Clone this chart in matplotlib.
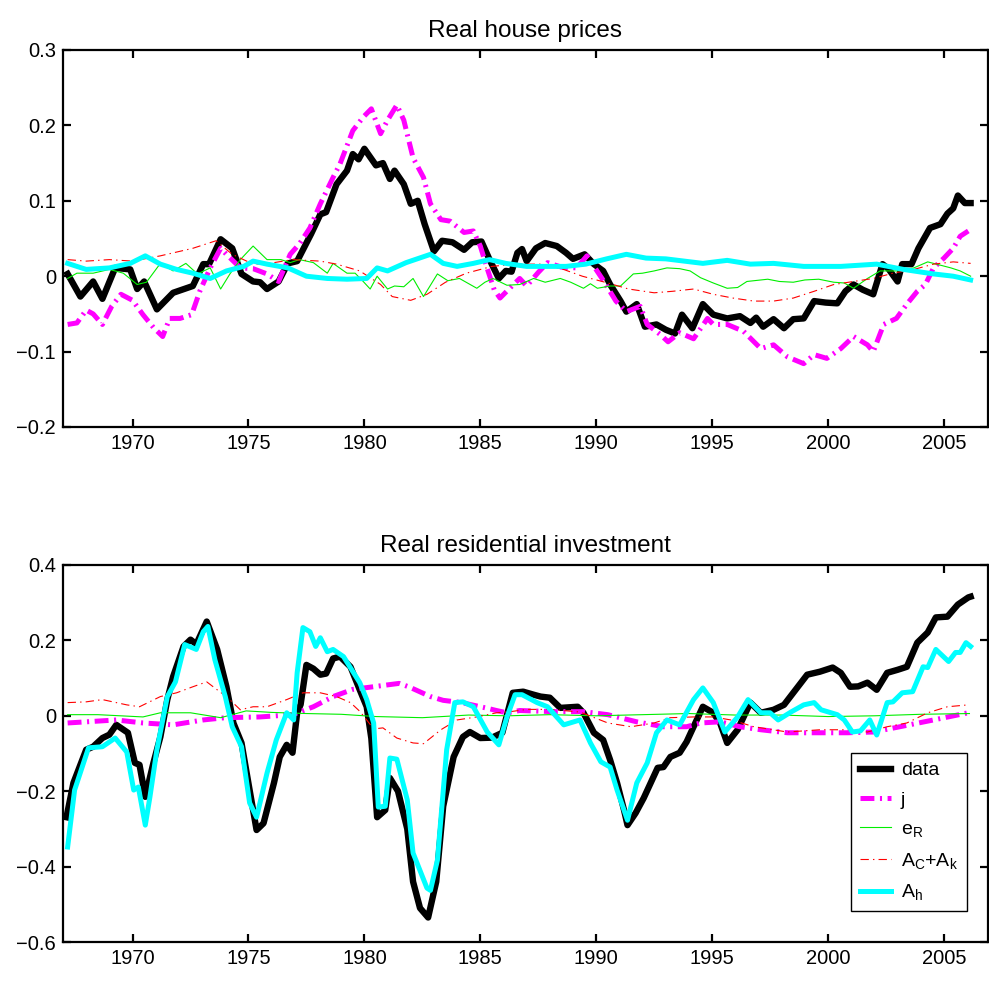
import matplotlib
matplotlib.use("Agg")
import matplotlib.pyplot as plt

plt.rcParams['font.family'] = ['Liberation Sans', 'DejaVu Sans']
plt.rcParams['mathtext.fontset'] = 'custom'
plt.rcParams['mathtext.rm'] = 'Liberation Sans'
plt.rcParams['mathtext.default'] = 'regular'
plt.rcParams['lines.scale_dashes'] = False

# ---------------------------------------------------------------
# Real house prices: (year, deviation) pairs for each contribution
# ---------------------------------------------------------------
hp_data_t = [1967.2, 1967.75, 1968.3, 1968.7, 1969.25, 1969.9, 1970.2, 1970.5, 1971.05, 1971.75,
             1972.6, 1973.05, 1973.3, 1973.8, 1974.3, 1974.7, 1975.2, 1975.5, 1975.8, 1976.3,
             1976.7, 1977.1, 1977.7, 1978.1, 1978.35, 1978.8, 1979.25, 1979.5, 1979.75, 1980.0,
             1980.5, 1980.8, 1981.1, 1981.3, 1981.7, 1982.0, 1982.3, 1982.6, 1983.0, 1983.35,
             1983.8, 1984.3, 1984.65, 1985.05, 1985.4, 1985.8, 1986.1, 1986.35, 1986.6, 1986.8,
             1987.0, 1987.4, 1987.8, 1988.3, 1988.7, 1989.0, 1989.5, 1989.9, 1990.3, 1990.6,
             1991.05, 1991.3, 1991.75, 1992.1, 1992.6, 1993.0, 1993.4, 1993.7, 1994.15, 1994.6,
             1995.05, 1995.65, 1996.2, 1996.65, 1996.9, 1997.2, 1997.65, 1998.1, 1998.5, 1998.95,
             1999.4, 1999.9, 2000.4, 2000.75, 2001.1, 2001.5, 2001.95, 2002.35, 2002.6, 2003.0,
             2003.2, 2003.6, 2003.9, 2004.4, 2004.85, 2005.15, 2005.4, 2005.6, 2005.9, 2006.15]
hp_data_v = [0.003, -0.027, -0.007, -0.030, 0.011, 0.009, -0.017, -0.007, -0.044, -0.022,
             -0.013, 0.016, 0.016, 0.049, 0.037, 0.003, -0.007, -0.008, -0.017, -0.007,
             0.017, 0.020, 0.056, 0.082, 0.085, 0.122, 0.140, 0.162, 0.155, 0.169,
             0.147, 0.150, 0.129, 0.140, 0.122, 0.096, 0.100, 0.069, 0.033, 0.047,
             0.045, 0.035, 0.045, 0.046, 0.022, -0.003, 0.007, 0.006, 0.031, 0.036,
             0.020, 0.037, 0.044, 0.040, 0.031, 0.023, 0.029, 0.016, 0.007, -0.011,
             -0.033, -0.047, -0.037, -0.067, -0.064, -0.071, -0.076, -0.051, -0.069, -0.037,
             -0.051, -0.056, -0.053, -0.062, -0.055, -0.067, -0.057, -0.069, -0.057, -0.056,
             -0.033, -0.035, -0.036, -0.020, -0.011, -0.018, -0.024, 0.016, 0.010, -0.007,
             0.016, 0.016, 0.037, 0.064, 0.069, 0.083, 0.090, 0.107, 0.097, 0.097]

hp_j_t = [1967.2, 1967.6, 1968.0, 1968.3, 1968.7, 1969.1, 1969.5, 1970.0, 1970.45, 1970.9,
          1971.3, 1971.6, 1972.05, 1972.55, 1972.9, 1973.35, 1973.8, 1974.05, 1974.65, 1975.2,
          1975.8, 1976.3, 1976.8, 1977.2, 1977.65, 1978.1, 1978.65, 1978.95, 1979.5, 1979.95,
          1980.3, 1980.7, 1981.0, 1981.4, 1981.7, 1982.1, 1982.55, 1982.85, 1983.3, 1983.7,
          1984.3, 1984.7, 1985.0, 1985.3, 1985.6, 1985.85, 1986.3, 1986.7, 1987.0, 1987.5,
          1987.9, 1988.5, 1989.15, 1989.6, 1990.25, 1990.85, 1991.3, 1991.9, 1992.2, 1992.75,
          1993.1, 1993.6, 1994.2, 1994.8, 1995.05, 1995.65, 1996.35, 1997.1, 1997.65, 1998.25,
          1998.95, 1999.4, 1999.95, 2000.55, 2001.1, 2001.7, 2001.95, 2002.4, 2002.95, 2003.4,
          2003.85, 2004.2, 2004.55, 2005.0, 2005.4, 2005.7, 2006.05]
hp_j_v = [-0.064, -0.062, -0.045, -0.050, -0.064, -0.040, -0.024, -0.032, -0.051, -0.068,
          -0.080, -0.056, -0.056, -0.051, -0.020, 0.011, 0.037, 0.029, 0.011, 0.010,
          0.003, -0.007, 0.029, 0.043, 0.064, 0.096, 0.131, 0.149, 0.193, 0.211,
          0.222, 0.189, 0.207, 0.227, 0.207, 0.157, 0.131, 0.096, 0.075, 0.073,
          0.058, 0.060, 0.040, 0.010, -0.018, -0.029, -0.015, -0.003, -0.013, 0.005,
          0.018, 0.012, 0.011, 0.027, -0.003, -0.033, -0.047, -0.040, -0.064, -0.077,
          -0.087, -0.075, -0.083, -0.056, -0.064, -0.064, -0.073, -0.096, -0.091, -0.107,
          -0.116, -0.104, -0.109, -0.096, -0.080, -0.091, -0.100, -0.064, -0.056, -0.037,
          -0.020, -0.011, 0.011, 0.024, 0.037, 0.053, 0.060]

hp_er_t = [1967.2, 1967.6, 1968.3, 1969.0, 1969.6, 1970.2, 1970.6, 1971.2, 1971.75, 1972.3,
           1972.8, 1973.35, 1973.8, 1974.2, 1974.65, 1975.2, 1975.8, 1976.4, 1976.8, 1977.2,
           1977.8, 1978.4, 1978.65, 1979.25, 1979.6, 1979.95, 1980.25, 1980.55, 1981.0, 1981.3,
           1981.7, 1982.1, 1982.55, 1983.15, 1983.6, 1984.1, 1984.85, 1985.2, 1985.55, 1986.15,
           1986.7, 1987.3, 1987.8, 1988.45, 1988.9, 1989.45, 1989.75, 1990.05, 1990.6, 1991.05,
           1991.6, 1992.0, 1992.5, 1993.05, 1993.6, 1994.05, 1994.5, 1995.05, 1995.65, 1996.1,
           1996.5, 1997.4, 1997.9, 1998.5, 1999.0, 1999.6, 2000.25, 2000.7, 2001.1, 2001.7,
           2002.25, 2003.0, 2003.7, 2004.3, 2004.8, 2005.3, 2005.7, 2006.15]
hp_er_v = [-0.003, 0.004, 0.004, 0.009, 0.004, -0.011, -0.008, 0.017, 0.007, 0.017,
           0.003, 0.011, -0.017, 0.003, 0.022, 0.040, 0.022, 0.022, 0.018, 0.022,
           0.018, 0.004, 0.017, 0.004, 0.004, -0.007, -0.017, 0.000, -0.017, -0.013,
           -0.014, -0.003, -0.027, 0.003, -0.006, -0.003, -0.016, -0.008, -0.003, -0.012,
           -0.011, -0.003, -0.008, -0.003, -0.008, -0.016, -0.010, -0.016, -0.013, -0.013,
           0.003, 0.004, 0.007, 0.011, 0.010, 0.007, -0.002, -0.009, -0.016, -0.015,
           -0.007, -0.004, -0.007, -0.008, -0.005, -0.004, -0.008, -0.009, -0.016, -0.003,
           0.007, 0.007, 0.011, 0.019, 0.015, 0.011, 0.007, 0.000]

hp_ack_t = [1967.2, 1968.0, 1969.0, 1970.0, 1971.2, 1972.6, 1973.6, 1974.3, 1975.2, 1975.9,
            1976.9, 1978.1, 1978.8, 1979.8, 1980.7, 1981.2, 1982.0, 1982.7, 1983.5, 1984.4,
            1985.5, 1986.5, 1987.6, 1988.5, 1989.4, 1990.5, 1991.4, 1992.5, 1993.3, 1994.2,
            1995.05, 1995.9, 1996.8, 1997.65, 1998.5, 1999.4, 2000.25, 2001.1, 2001.95, 2002.8,
            2003.7, 2004.55, 2005.4, 2006.15]
hp_ack_v = [0.022, 0.020, 0.022, 0.020, 0.027, 0.037, 0.047, 0.029, 0.016, 0.017,
            0.022, 0.020, 0.016, 0.007, -0.011, -0.027, -0.032, -0.024, -0.008, 0.004,
            0.013, 0.016, 0.016, 0.010, 0.000, -0.009, -0.017, -0.022, -0.020, -0.017,
            -0.024, -0.029, -0.033, -0.033, -0.029, -0.020, -0.011, -0.007, -0.003, 0.004,
            0.009, 0.016, 0.019, 0.017]

hp_ah_t = [1967.2, 1968.0, 1969.0, 1969.9, 1970.55, 1971.2, 1971.9, 1972.6, 1973.35, 1974.05,
           1974.8, 1975.2, 1975.8, 1976.7, 1977.5, 1978.4, 1979.25, 1980.1, 1980.55, 1981.0,
           1981.8, 1982.85, 1983.4, 1984.0, 1984.7, 1985.4, 1986.1, 1987.0, 1988.7, 1989.55,
           1990.45, 1991.3, 1992.15, 1993.0, 1994.6, 1995.65, 1996.65, 1997.65, 1998.95, 2000.55,
           2002.1, 2003.25, 2004.55, 2005.4, 2006.15]
hp_ah_v = [0.017, 0.009, 0.011, 0.017, 0.027, 0.016, 0.009, 0.004, -0.003, 0.007,
           0.013, 0.020, 0.016, 0.011, 0.000, -0.003, -0.004, -0.003, 0.011, 0.007,
           0.018, 0.029, 0.017, 0.013, 0.017, 0.022, 0.017, 0.013, 0.013, 0.016,
           0.023, 0.029, 0.024, 0.023, 0.017, 0.021, 0.016, 0.017, 0.013, 0.013,
           0.016, 0.009, 0.003, 0.000, -0.005]

# ---------------------------------------------------------------
# Real residential investment
# ---------------------------------------------------------------
ri_data_t = [1967.15, 1967.45, 1968.0, 1968.3, 1968.7, 1969.0, 1969.3, 1969.8, 1970.1, 1970.3,
             1970.55, 1970.9, 1971.2, 1971.5, 1971.75, 1972.2, 1972.5, 1972.75, 1973.2, 1973.65,
             1974.05, 1974.35, 1974.7, 1975.05, 1975.35, 1975.65, 1976.1, 1976.35, 1976.65, 1976.9,
             1977.1, 1977.25, 1977.5, 1977.8, 1978.1, 1978.35, 1978.65, 1978.95, 1979.4, 1979.8,
             1980.1, 1980.3, 1980.55, 1980.9, 1981.1, 1981.45, 1981.85, 1982.1, 1982.4, 1982.75,
             1983.1, 1983.4, 1983.85, 1984.25, 1984.55, 1985.0, 1985.5, 1985.95, 1986.4, 1986.85,
             1987.3, 1987.6, 1988.0, 1988.45, 1989.2, 1989.45, 1989.9, 1990.3, 1990.6, 1990.9,
             1991.2, 1991.35, 1991.7, 1992.05, 1992.35, 1992.65, 1992.9, 1993.2, 1993.6, 1993.9,
             1994.2, 1994.6, 1995.05, 1995.35, 1995.65, 1996.1, 1996.65, 1997.1, 1997.65, 1998.1,
             1998.5, 1999.1, 1999.65, 2000.2, 2000.55, 2000.95, 2001.3, 2001.7, 2002.1, 2002.55,
             2003.0, 2003.4, 2003.85, 2004.3, 2004.65, 2005.15, 2005.6, 2006.05, 2006.15]
ri_data_v = [-0.269, -0.178, -0.090, -0.082, -0.059, -0.050, -0.024, -0.045, -0.125, -0.130,
             -0.215, -0.125, -0.056, 0.043, 0.104, 0.184, 0.202, 0.190, 0.250, 0.176,
             0.077, -0.019, -0.072, -0.197, -0.303, -0.285, -0.178, -0.109, -0.077, -0.098,
             0.008, 0.030, 0.135, 0.125, 0.109, 0.112, 0.152, 0.157, 0.130, 0.069,
             0.024, -0.060, -0.269, -0.250, -0.165, -0.200, -0.300, -0.440, -0.510, -0.535,
             -0.440, -0.240, -0.109, -0.056, -0.043, -0.059, -0.058, -0.045, 0.061, 0.064,
             0.056, 0.051, 0.048, 0.021, 0.024, 0.008, -0.045, -0.064, -0.117, -0.178,
             -0.250, -0.290, -0.258, -0.218, -0.178, -0.138, -0.136, -0.109, -0.098, -0.069,
             -0.029, 0.024, 0.008, -0.020, -0.072, -0.037, 0.035, 0.008, 0.016, 0.029,
             0.061, 0.109, 0.117, 0.128, 0.114, 0.077, 0.078, 0.088, 0.069, 0.114,
             0.122, 0.130, 0.194, 0.221, 0.261, 0.263, 0.295, 0.314, 0.316]

ri_j_t = [1967.2, 1968.0, 1969.3, 1970.45, 1971.75, 1973.05, 1974.0, 1975.5, 1976.9, 1977.8,
          1978.65, 1979.5, 1980.5, 1981.5, 1981.95, 1982.85, 1983.4, 1984.2, 1985.3, 1985.7,
          1986.15, 1986.7, 1988.15, 1989.45, 1990.5, 1991.75, 1992.9, 1993.9, 1994.5, 1995.35,
          1996.2, 1997.1, 1998.25, 1999.65, 2000.85, 2001.95, 2003.1, 2004.55, 2006.05]
ri_j_v = [-0.019, -0.016, -0.011, -0.019, -0.024, -0.011, -0.005, -0.003, 0.003, 0.024,
          0.051, 0.070, 0.078, 0.086, 0.076, 0.051, 0.041, 0.035, 0.020, 0.014,
          0.008, 0.014, 0.011, 0.011, 0.003, -0.016, -0.029, -0.029, -0.019, -0.016,
          -0.029, -0.037, -0.045, -0.045, -0.045, -0.043, -0.029, -0.011, 0.008]

ri_er_t = [1967.2, 1968.5, 1970.45, 1971.2, 1972.5, 1973.8, 1974.9, 1976.0, 1977.5, 1979.0,
           1980.5, 1982.5, 1984.5, 1986.2, 1988.0, 1990.0, 1992.0, 1994.0, 1996.0, 1998.0,
           2000.0, 2002.0, 2004.0, 2006.1]
ri_er_v = [0.003, 0.003, -0.003, 0.008, 0.008, -0.005, 0.013, 0.009, 0.006, 0.004,
           -0.002, -0.005, 0.002, 0.000, 0.003, 0.000, 0.003, 0.006, 0.002, 0.002,
           -0.002, 0.000, 0.004, 0.006]

ri_ack_t = [1967.2, 1968.0, 1968.7, 1969.75, 1970.3, 1971.2, 1971.9, 1972.6, 1973.2, 1973.65,
            1974.05, 1974.65, 1975.2, 1975.8, 1976.65, 1977.35, 1978.1, 1978.8, 1979.4, 1979.8,
            1980.1, 1980.4, 1980.8, 1981.4, 1982.1, 1982.55, 1983.3, 1984.0, 1984.85, 1985.7,
            1986.3, 1987.0, 1988.0, 1989.3, 1990.5, 1991.5, 1992.5, 1993.2, 1994.2, 1995.05,
            1995.9, 1996.8, 1998.25, 1999.65, 2000.8, 2001.7, 2002.55, 2003.4, 2004.3, 2005.15,
            2006.05]
ri_ack_v = [0.035, 0.037, 0.043, 0.029, 0.024, 0.051, 0.061, 0.077, 0.090, 0.069,
            0.051, 0.016, 0.024, 0.024, 0.043, 0.061, 0.061, 0.051, 0.035, 0.012,
            -0.011, -0.035, -0.032, -0.059, -0.072, -0.074, -0.037, -0.011, -0.003, 0.008,
            0.011, 0.017, 0.017, 0.010, -0.019, -0.029, -0.019, -0.005, -0.003, -0.003,
            -0.012, -0.029, -0.043, -0.037, -0.037, -0.043, -0.029, -0.019, 0.008, 0.024,
            0.029]

ri_ah_t = [1967.2, 1967.5, 1968.1, 1968.7, 1969.25, 1969.75, 1970.05, 1970.25, 1970.55, 1970.75,
           1971.05, 1971.5, 1971.85, 1972.25, 1972.75, 1973.05, 1973.25, 1973.55, 1974.0, 1974.3,
           1974.7, 1975.05, 1975.35, 1975.8, 1976.2, 1976.65, 1976.95, 1977.1, 1977.35, 1977.65,
           1977.9, 1978.1, 1978.4, 1978.65, 1979.1, 1979.8, 1980.1, 1980.4, 1980.6, 1980.9,
           1981.1, 1981.4, 1981.85, 1982.1, 1982.7, 1982.85, 1983.15, 1983.55, 1983.9, 1984.25,
           1984.7, 1985.3, 1985.8, 1986.15, 1986.5, 1986.8, 1987.45, 1987.9, 1988.6, 1989.3,
           1989.75, 1990.2, 1990.6, 1990.9, 1991.35, 1991.75, 1992.2, 1992.6, 1993.05, 1993.6,
           1994.2, 1994.6, 1995.05, 1995.55, 1996.1, 1996.55, 1997.1, 1997.5, 1997.85, 1998.4,
           1998.95, 1999.4, 1999.7, 2000.4, 2000.7, 2001.05, 2001.4, 2001.8, 2002.1, 2002.55,
           2002.8, 2003.2, 2003.65, 2004.1, 2004.3, 2004.65, 2005.2, 2005.5, 2005.7, 2005.95,
           2006.15]
ri_ah_v = [-0.348, -0.197, -0.085, -0.082, -0.059, -0.096, -0.197, -0.189, -0.290, -0.215,
           -0.090, 0.051, 0.090, 0.189, 0.176, 0.223, 0.237, 0.149, 0.051, -0.029,
           -0.082, -0.231, -0.269, -0.152, -0.064, 0.008, -0.011, 0.114, 0.234, 0.223,
           0.184, 0.207, 0.170, 0.176, 0.157, 0.088, 0.043, -0.019, -0.242, -0.240,
           -0.112, -0.115, -0.223, -0.364, -0.457, -0.463, -0.383, -0.090, 0.035, 0.037,
           0.024, -0.043, -0.077, -0.003, 0.056, 0.056, 0.035, 0.024, -0.024, -0.011,
           -0.072, -0.122, -0.136, -0.197, -0.277, -0.178, -0.125, -0.045, -0.011, -0.024,
           0.043, 0.074, 0.035, -0.043, -0.003, 0.043, 0.008, 0.008, -0.011, 0.010,
           0.029, 0.035, 0.016, 0.003, -0.011, -0.043, -0.040, -0.011, -0.051, 0.035,
           0.037, 0.061, 0.064, 0.130, 0.128, 0.176, 0.144, 0.168, 0.168, 0.194,
           0.184]

series_labels = ['data', 'j', 'e$_R$', 'A$_C$+A$_k$', 'A$_h$']
year_ticks = [1970, 1975, 1980, 1985, 1990, 1995, 2000, 2005]

# line styles for the five series (data, j, e_R, A_C+A_k, A_h)
styles = [
    dict(color='black', lw=4.6, solid_joinstyle='round'),
    dict(color='#ff00ff', lw=3.6, dashes=(10, 4, 1.5, 4), dash_capstyle='butt'),
    dict(color='#00ee00', lw=0.8),
    dict(color='#ff0000', lw=0.8, dashes=(6, 3, 1, 3)),
    dict(color='#00ffff', lw=3.6, solid_joinstyle='round'),
]

fig = plt.figure(figsize=(9.89, 9.85), dpi=100)
W, H = 989.0, 985.0
ax1 = fig.add_axes([63 / W, 1 - 427 / H, 925 / W, 377 / H])
ax2 = fig.add_axes([63 / W, 1 - 942 / H, 925 / W, 377 / H])

top = [(hp_data_t, hp_data_v), (hp_j_t, hp_j_v), (hp_er_t, hp_er_v),
       (hp_ack_t, hp_ack_v), (hp_ah_t, hp_ah_v)]
bottom = [(ri_data_t, ri_data_v), (ri_j_t, ri_j_v), (ri_er_t, ri_er_v),
          (ri_ack_t, ri_ack_v), (ri_ah_t, ri_ah_v)]

for (t, v), st, lab in zip(top, styles, series_labels):
    ax1.plot(t, v, label=lab, **st)
handles = []
for (t, v), st, lab in zip(bottom, styles, series_labels):
    h, = ax2.plot(t, v, label=lab, **st)
    handles.append(h)

for ax, ylim, yt in [(ax1, (-0.2, 0.3), [-0.2, -0.1, 0, 0.1, 0.2, 0.3]),
                     (ax2, (-0.6, 0.4), [-0.6, -0.4, -0.2, 0, 0.2, 0.4])]:
    ax.set_xlim(1967, 2006.9)
    ax.set_ylim(*ylim)
    ax.set_xticks(year_ticks)
    ax.set_yticks(yt)
    ax.set_yticklabels([('%g' % y).replace('-', '\u2212') for y in yt])
    ax.tick_params(direction='in', top=True, right=True, length=6, width=1.6,
                   labelsize=14.5, pad=5)
    for sp in ax.spines.values():
        sp.set_linewidth(1.6)

ax1.set_title('Real house prices', fontsize=17.5, pad=9)
ax2.set_title('Real residential investment', fontsize=17.5, pad=9)

leg = ax2.legend(handles=handles, loc='lower right', bbox_to_anchor=(0.977, 0.082),
                 borderaxespad=0, fontsize=14, fancybox=False, framealpha=1,
                 edgecolor='black', handlelength=1.6, handletextpad=0.5,
                 labelspacing=0.6, borderpad=0.45)
leg.get_frame().set_linewidth(1.0)

fig.savefig('out.png', dpi=100, facecolor='white')
